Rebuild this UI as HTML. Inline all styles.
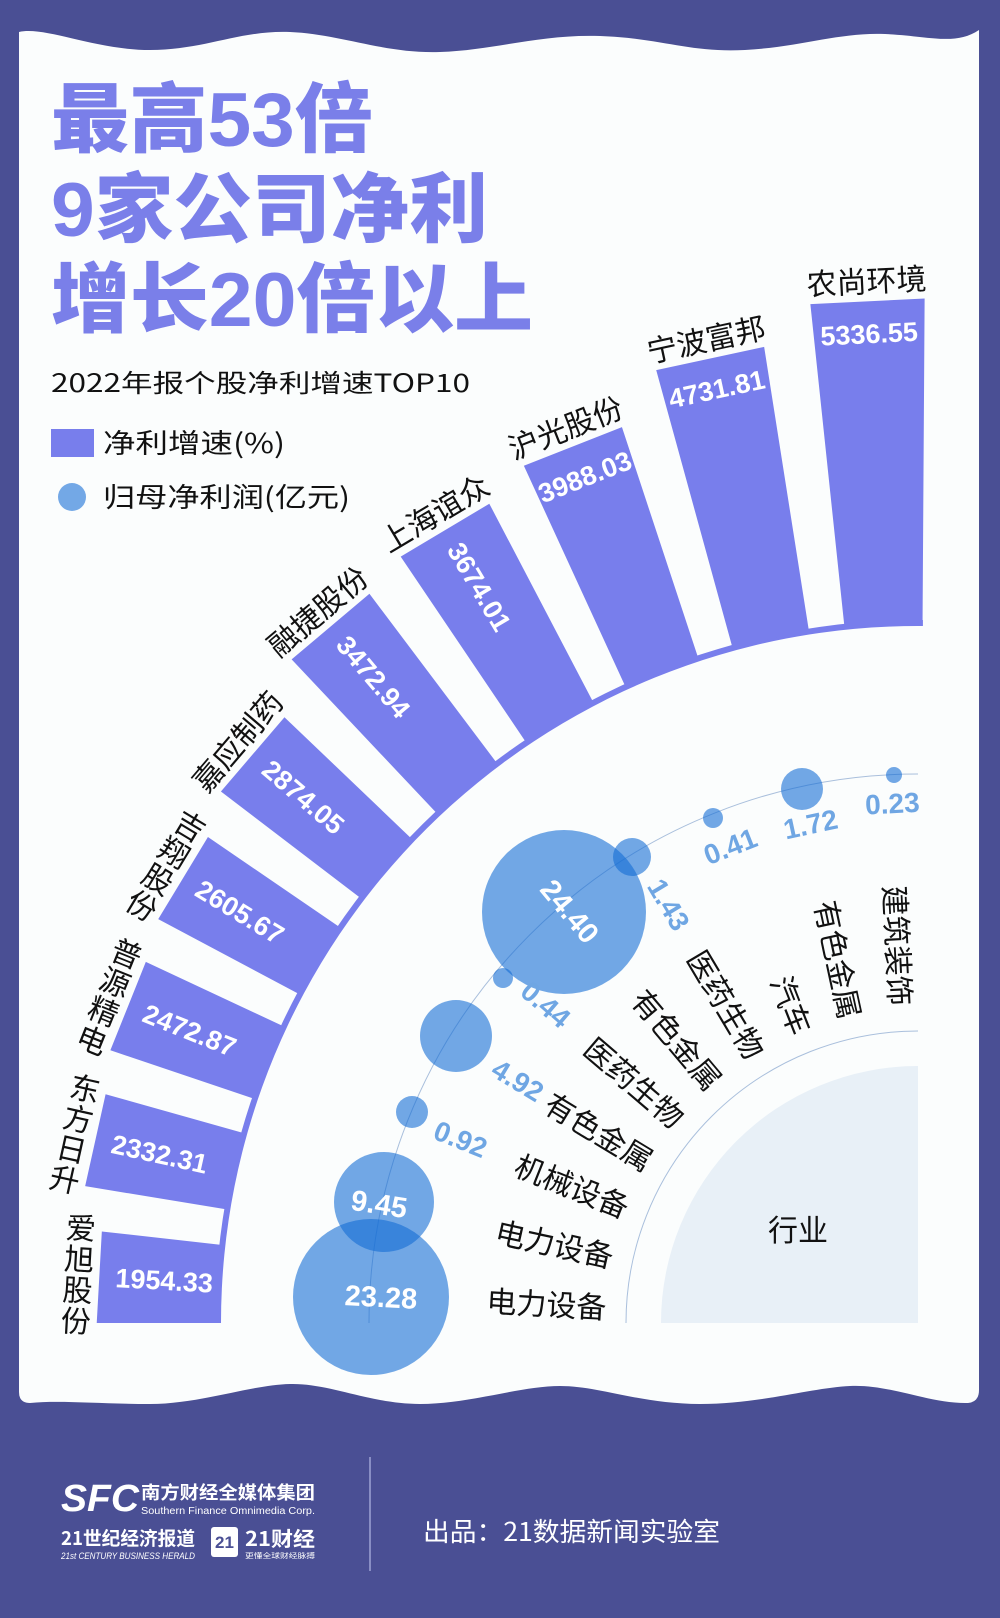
<!DOCTYPE html>
<html><head><meta charset="utf-8"><style>
html,body{margin:0;padding:0;background:#4a4f94;}
svg{display:block;}
text{font-family:"Liberation Sans","Noto Sans CJK SC",sans-serif;}
.cjk{font-family:"Noto Sans CJK SC","WenQuanYi Zen Hei",sans-serif;}
.num{font-family:"Liberation Sans",sans-serif;font-weight:bold;}
</style></head><body>
<svg width="1000" height="1618" viewBox="0 0 1000 1618" xmlns="http://www.w3.org/2000/svg">
<rect width="1000" height="1618" fill="#4a4f94"/>
<path d="M19 32 C45 26,95 50,150 50 S240 30,290 32 S385 54,440 52 S540 34,600 36 S690 53,745 50 S840 32,885 34 S955 46,979 30
 L979 1390 Q979 1402,968 1403 C930 1404,890 1384,850 1386 S760 1404,700 1404 S600 1386,560 1386 S470 1404,420 1404 S330 1383,290 1384 S200 1404,150 1404 S60 1400,30 1403 Q19 1403,19 1392 Z" fill="#fbfdfd"/>

<g class="cjk" fill="#7a7fe9" font-weight="900" font-size="76">
<text x="51" y="146" textLength="322" lengthAdjust="spacingAndGlyphs">最高53倍</text>
<text x="51" y="236" textLength="437" lengthAdjust="spacingAndGlyphs">9家公司净利</text>
<text x="51" y="326" textLength="482" lengthAdjust="spacingAndGlyphs">增长20倍以上</text>
</g>
<text class="cjk" x="51" y="392" font-size="25" fill="#111" textLength="419" lengthAdjust="spacingAndGlyphs">2022年报个股净利增速TOP10</text>
<rect x="51" y="429" width="43" height="28" fill="#787eec"/>
<text class="cjk" x="103" y="453" font-size="27" fill="#111" textLength="182" lengthAdjust="spacingAndGlyphs">净利增速(%)</text>
<circle cx="72" cy="497" r="14" fill="#73a8e6"/>
<text class="cjk" x="103" y="507" font-size="27" fill="#111" textLength="247" lengthAdjust="spacingAndGlyphs">归母净利润(亿元)</text>

<path d="M918 1323 L661 1323 A257 257 0 0 1 918 1066 Z" fill="#e8f0f7"/>
<path d="M626 1323 A292 292 0 0 1 918 1031" fill="none" stroke="#a9bfdc" stroke-width="1"/>
<path d="M369 1323 A549 549 0 0 1 918 774" fill="none" stroke="#a9bfdc" stroke-width="1"/>
<text class="cjk" x="798" y="1228" font-size="30" fill="#111" text-anchor="middle" dominant-baseline="central">行业</text>

<path d="M221 1323 A697 697 0 0 1 922.9 626 L922.9 620 A703 703 0 0 0 215 1323 Z" fill="#787eec"/>

<g fill="#787eec">
<g transform="translate(918 1323) rotate(3.2)">
<path d="M-698.9 39.1 L-820 45.8 L-820 -45.8 L-698.9 -39.1 A700 700 0 0 0 -698.9 39.1 Z"/>
<text class="num" x="-755" y="0" font-size="27" fill="#fff" text-anchor="middle" dominant-baseline="central">1954.33</text>
<g class="cjk" font-size="30" fill="#111" text-anchor="middle" dominant-baseline="central"><text x="-841" y="-46.5">爱</text><text x="-841" y="-15.5">旭</text><text x="-841" y="15.5">股</text><text x="-841" y="46.5">份</text></g>
</g>
<g transform="translate(918 1323) rotate(12.53)">
<path d="M-698.9 39.1 L-842.7 47.1 L-842.7 -47.1 L-698.9 -39.1 A700 700 0 0 0 -698.9 39.1 Z"/>
<text class="num" x="-777" y="0" font-size="27" fill="#fff" text-anchor="middle" dominant-baseline="central">2332.31</text>
<g class="cjk" font-size="30" fill="#111" text-anchor="middle" dominant-baseline="central"><text x="-864" y="-46.5">东</text><text x="-864" y="-15.5">方</text><text x="-864" y="15.5">日</text><text x="-864" y="46.5">升</text></g>
</g>
<g transform="translate(918 1323) rotate(21.86)">
<path d="M-698.9 39.1 L-851.1 47.6 L-851.1 -47.6 L-698.9 -39.1 A700 700 0 0 0 -698.9 39.1 Z"/>
<text class="num" x="-785" y="0" font-size="27" fill="#fff" text-anchor="middle" dominant-baseline="central">2472.87</text>
<g class="cjk" font-size="30" fill="#111" text-anchor="middle" dominant-baseline="central"><text x="-872" y="-46.5">普</text><text x="-872" y="-15.5">源</text><text x="-872" y="15.5">精</text><text x="-872" y="46.5">电</text></g>
</g>
<g transform="translate(918 1323) rotate(31.19)">
<path d="M-698.9 39.1 L-859.1 48 L-859.1 -48 L-698.9 -39.1 A700 700 0 0 0 -698.9 39.1 Z"/>
<text class="num" x="-793" y="0" font-size="27" fill="#fff" text-anchor="middle" dominant-baseline="central">2605.67</text>
<g class="cjk" font-size="30" fill="#111" text-anchor="middle" dominant-baseline="central"><text x="-880" y="-46.5">吉</text><text x="-880" y="-15.5">翔</text><text x="-880" y="15.5">股</text><text x="-880" y="46.5">份</text></g>
</g>
<g transform="translate(918 1323) rotate(40.52)">
<path d="M-698.9 39.1 L-875.2 48.9 L-875.2 -48.9 L-698.9 -39.1 A700 700 0 0 0 -698.9 39.1 Z"/>
<text class="num" x="-809" y="0" font-size="27" fill="#fff" text-anchor="middle" dominant-baseline="central">2874.05</text>
<text class="cjk" transform="translate(-897 0) rotate(-90)" font-size="30" fill="#111" text-anchor="middle" dominant-baseline="central">嘉应制药</text>
</g>
<g transform="translate(918 1323) rotate(49.85)">
<path d="M-698.9 39.1 L-911.1 50.9 L-911.1 -50.9 L-698.9 -39.1 A700 700 0 0 0 -698.9 39.1 Z"/>
<text class="num" x="-845" y="0" font-size="27" fill="#fff" text-anchor="middle" dominant-baseline="central">3472.94</text>
<text class="cjk" transform="translate(-933 0) rotate(-90)" font-size="30" fill="#111" text-anchor="middle" dominant-baseline="central">融捷股份</text>
</g>
<g transform="translate(918 1323) rotate(59.18)">
<path d="M-698.9 39.1 L-923.2 51.6 L-923.2 -51.6 L-698.9 -39.1 A700 700 0 0 0 -698.9 39.1 Z"/>
<text class="num" x="-857" y="0" font-size="27" fill="#fff" text-anchor="middle" dominant-baseline="central">3674.01</text>
<text class="cjk" transform="translate(-945 0) rotate(-90)" font-size="30" fill="#111" text-anchor="middle" dominant-baseline="central">上海谊众</text>
</g>
<g transform="translate(918 1323) rotate(68.51)">
<path d="M-698.9 39.1 L-942 52.7 L-942 -52.7 L-698.9 -39.1 A700 700 0 0 0 -698.9 39.1 Z"/>
<text class="num" transform="translate(-909 0) rotate(-90)" font-size="27" fill="#fff" text-anchor="middle" dominant-baseline="central">3988.03</text>
<text class="cjk" transform="translate(-964 0) rotate(-90)" font-size="30" fill="#111" text-anchor="middle" dominant-baseline="central">沪光股份</text>
</g>
<g transform="translate(918 1323) rotate(77.84)">
<path d="M-698.9 39.1 L-986.6 55.2 L-986.6 -55.2 L-698.9 -39.1 A700 700 0 0 0 -698.9 39.1 Z"/>
<text class="num" transform="translate(-955 0) rotate(-90)" font-size="27" fill="#fff" text-anchor="middle" dominant-baseline="central">4731.81</text>
<text class="cjk" transform="translate(-1008 0) rotate(-90)" font-size="30" fill="#111" text-anchor="middle" dominant-baseline="central">宁波富邦</text>
</g>
<g transform="translate(918 1323) rotate(87.17)">
<path d="M-698.9 39.1 L-1022.9 57.2 L-1022.9 -57.2 L-698.9 -39.1 A700 700 0 0 0 -698.9 39.1 Z"/>
<text class="num" transform="translate(-990 0) rotate(-90)" font-size="27" fill="#fff" text-anchor="middle" dominant-baseline="central">5336.55</text>
<text class="cjk" transform="translate(-1045 0) rotate(-90)" font-size="30" fill="#111" text-anchor="middle" dominant-baseline="central">农尚环境</text>
</g>
</g>

<g fill="rgb(19,108,213)" fill-opacity="0.593">
<circle cx="371" cy="1297" r="78"/>
<circle cx="384" cy="1202" r="50"/>
<circle cx="412" cy="1112" r="16"/>
<circle cx="456" cy="1036" r="36"/>
<circle cx="503" cy="978" r="10"/>
<circle cx="564" cy="912" r="82"/>
<circle cx="632" cy="857" r="19"/>
<circle cx="713" cy="818" r="10"/>
<circle cx="802" cy="789" r="21"/>
<circle cx="894" cy="775" r="8"/>
</g>
<g class="num" font-size="29" fill="#fff" text-anchor="middle" dominant-baseline="central">
<text transform="translate(381 1298) rotate(3)">23.28</text>
<text transform="translate(379 1205) rotate(9)">9.45</text>
<text transform="translate(569 912) rotate(50)">24.40</text>
</g>

<g font-size="28" text-anchor="middle" dominant-baseline="central">
<g transform="translate(918 1323) rotate(3.2)"><text class="cjk" x="-312" y="0" font-size="30" fill="#111" text-anchor="end">电力设备</text></g>
<g transform="translate(918 1323) rotate(12.53)"><text class="cjk" x="-312" y="0" font-size="30" fill="#111" text-anchor="end">电力设备</text></g>
<g transform="translate(918 1323) rotate(21.86)"><text class="num" x="-493" y="0" fill="#6fa6e3">0.92</text><text class="cjk" x="-312" y="0" font-size="30" fill="#111" text-anchor="end">机械设备</text></g>
<g transform="translate(918 1323) rotate(31.19)"><text class="num" x="-468" y="0" fill="#6fa6e3">4.92</text><text class="cjk" x="-312" y="0" font-size="30" fill="#111" text-anchor="end">有色金属</text></g>
<g transform="translate(918 1323) rotate(40.52)"><text class="num" x="-490" y="0" fill="#6fa6e3">0.44</text><text class="cjk" x="-312" y="0" font-size="30" fill="#111" text-anchor="end">医药生物</text></g>
<g transform="translate(918 1323) rotate(49.85)"><text class="cjk" x="-312" y="0" font-size="30" fill="#111" text-anchor="end">有色金属</text></g>
<g transform="translate(918 1323) rotate(59.18)"><text class="num" x="-487" y="0" fill="#6fa6e3">1.43</text><text class="cjk" x="-312" y="0" font-size="30" fill="#111" text-anchor="end">医药生物</text></g>
<g transform="translate(918 1323) rotate(68.51)"><text class="num" transform="translate(-512 0) rotate(-90)" fill="#6fa6e3">0.41</text><text class="cjk" x="-312" y="0" font-size="30" fill="#111" text-anchor="end">汽车</text></g>
<g transform="translate(918 1323) rotate(77.84)"><text class="num" transform="translate(-510 0) rotate(-90)" fill="#6fa6e3">1.72</text><text class="cjk" x="-312" y="0" font-size="30" fill="#111" text-anchor="end">有色金属</text></g>
<g transform="translate(918 1323) rotate(87.17)"><text class="num" transform="translate(-520 0) rotate(-90)" fill="#6fa6e3">0.23</text><text class="cjk" x="-318" y="0" font-size="30" fill="#111" text-anchor="end">建筑装饰</text></g>
</g>

<line x1="370" y1="1457" x2="370" y2="1571" stroke="#9ea3d4" stroke-width="1.5"/>
<text class="cjk" x="423" y="1541" font-size="26" fill="#fff" textLength="297" lengthAdjust="spacingAndGlyphs">出品：21数据新闻实验室</text>
<text x="61" y="1511" font-size="38" font-weight="bold" fill="#fff" font-style="italic" textLength="78" lengthAdjust="spacingAndGlyphs">SFC</text>
<text class="cjk" x="141" y="1499" font-size="18" font-weight="bold" fill="#fff" textLength="174" lengthAdjust="spacingAndGlyphs">南方财经全媒体集团</text>
<text x="141" y="1514" font-size="10" fill="#fff" textLength="174" lengthAdjust="spacingAndGlyphs">Southern Finance Omnimedia Corp.</text>
<text class="cjk" x="61" y="1545" font-size="19" font-weight="bold" fill="#fff" textLength="134" lengthAdjust="spacingAndGlyphs">21世纪经济报道</text>
<text x="61" y="1559" font-size="9" font-style="italic" fill="#fff" textLength="134" lengthAdjust="spacingAndGlyphs">21st CENTURY BUSINESS HERALD</text>
<rect x="211" y="1527" width="27" height="30" rx="3" fill="#fff"/>
<text x="224.5" y="1548" font-size="17" font-weight="bold" fill="#4a4f94" text-anchor="middle">21</text>
<text class="cjk" x="245" y="1546" font-size="20" font-weight="bold" fill="#fff" textLength="70" lengthAdjust="spacingAndGlyphs">21财经</text>
<text class="cjk" x="245" y="1558" font-size="7" fill="#fff" textLength="70" lengthAdjust="spacingAndGlyphs">更懂全球财经脉搏</text>
</svg>
</body></html>
